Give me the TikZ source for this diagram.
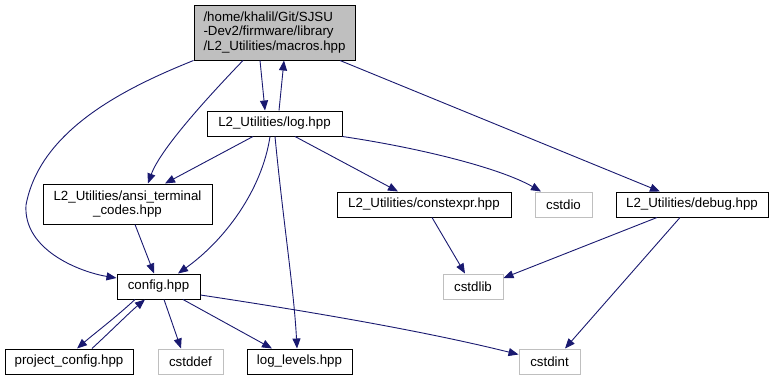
\documentclass[tikz,border=0pt]{standalone}
\usepackage{fontspec}
\setmainfont{Liberation Sans}
\usetikzlibrary{arrows.meta}
\definecolor{edgeblue}{HTML}{191970}
\definecolor{boxgray}{HTML}{BFBFBF}
\begin{document}
\begin{tikzpicture}[x=1pt,y=-1pt,
  font=\fontsize{13.3}{14.6}\selectfont,
  filebox/.style={draw=black, line width=1pt, inner sep=0pt, minimum height=25pt, align=center},
  sysbox/.style={draw=boxgray, line width=1pt, inner sep=0pt, minimum height=25pt},
  dep/.style={draw=edgeblue, line width=0.9pt, -{Triangle[length=10pt,width=8pt]}}]
\useasboundingbox (0,0) rectangle (773,380);

% header files of the project
\node[filebox, fill=boxgray, minimum width=161pt, minimum height=55pt, align=left] (macros) at (274.5,32.5)
  {/home/khalil/Git/SJSU\\-Dev2/firmware/library\\/L2\_Utilities/macros.hpp};
\node[filebox, minimum width=135pt] (log) at (274.5,123.5) {L2\_Utilities/log.hpp};
\node[filebox, minimum width=169pt, minimum height=40pt] (ansi) at (127.5,204) {L2\_Utilities/ansi\_terminal\\\_codes.hpp};
\node[filebox, minimum width=174pt] (constexpr) at (424,204.5) {L2\_Utilities/constexpr.hpp};
\node[filebox, minimum width=152pt] (debug) at (692,204.5) {L2\_Utilities/debug.hpp};
\node[filebox, minimum width=83pt] (config) at (158.5,286.5) {config.hpp};
\node[filebox, minimum width=128pt] (project) at (69,361.5) {project\_config.hpp};
\node[filebox, minimum width=105pt] (levels) at (299.5,361.5) {log\_levels.hpp};

% standard library headers
\node[sysbox, minimum width=57pt] (cstdio) at (563.5,204.5) {cstdio};
\node[sysbox, minimum width=60pt] (cstdlib) at (473,286.5) {cstdlib};
\node[sysbox, minimum width=65pt] (cstddef) at (190.5,361.5) {cstddef};
\node[sysbox, minimum width=61pt] (cstdint) at (549.5,361.5) {cstdint};

% include relations
\draw[dep] ([xshift=-14.5pt]macros.south) -- ([xshift=-9.5pt]log.north);
\draw[dep] ([xshift=4.5pt]log.north) -- ([xshift=9.5pt]macros.south);
\draw[dep] ([xshift=-31.5pt]macros.south) .. controls (205,100) and (160,150) .. ([xshift=20.5pt]ansi.north);
\draw[dep] (macros.south west) .. controls (125,88) and (40,130) .. (26,205)
  .. controls (23,250) and (80,272) .. ([yshift=8.5pt]config.west);
\draw[dep] ([xshift=65.5pt]macros.south) -- ([xshift=-32pt]debug.north);

\draw[dep] ([xshift=-21.5pt]log.south) -- ([xshift=37.5pt]ansi.north);
\draw[dep] ([xshift=-4.5pt]log.south) .. controls (262,190) and (225,240) .. ([xshift=19.5pt]config.north);
\draw[dep] ([xshift=0.5pt]log.south) .. controls (283,220) and (294,290) .. ([xshift=-2.5pt]levels.north);
\draw[dep] ([xshift=20.5pt]log.south) -- ([xshift=-26pt]constexpr.north);
\draw[dep] (log.south east) .. controls (420,148) and (500,168) .. ([xshift=-22.5pt]cstdio.north);

\draw[dep] ([xshift=7.5pt]ansi.south) -- ([xshift=-4.5pt]config.north);

\draw[dep] ([xshift=-23.5pt]config.south) .. controls (115,318) and (95,333) .. ([xshift=8pt]project.north);
\draw[dep] ([xshift=23pt]project.north) .. controls (112,330) and (130,312) .. ([xshift=-13.5pt]config.south);
\draw[dep] ([xshift=5.5pt]config.south) -- ([xshift=-9.5pt]cstddef.north);
\draw[dep] ([xshift=24.5pt]config.south) -- ([xshift=-27.5pt]levels.north);
\draw[dep] ([yshift=-8.5pt]config.east) .. controls (300,310) and (420,330) .. ([yshift=7pt]cstdint.west);

\draw[dep] ([xshift=8pt]constexpr.south) -- ([xshift=-8pt]cstdlib.north);
\draw[dep] ([xshift=-35pt]debug.south) -- ([yshift=8.5pt]cstdlib.east);
\draw[dep] ([xshift=-12pt]debug.south) -- ([xshift=15.5pt]cstdint.north);
\end{tikzpicture}
\end{document}
